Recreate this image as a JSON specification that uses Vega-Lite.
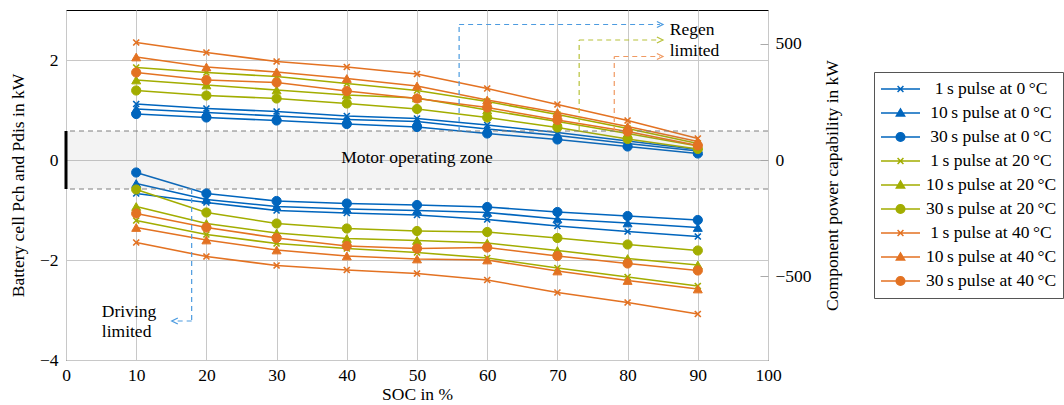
{
  "$schema": "https://vega.github.io/schema/vega-lite/v6.json",
  "width": 702,
  "height": 350,
  "autosize": {"type": "none"},
  "padding": {"left": 66, "top": 10, "right": 296, "bottom": 45},
  "config": {
    "font": "Liberation Serif",
    "view": {"stroke": "black", "strokeWidth": 1},
    "axis": {
      "labelFont": "Liberation Serif", "labelFontSize": 17.5, "labelColor": "black",
      "titleFont": "Liberation Serif", "titleFontSize": 17.5, "titleFontWeight": "normal", "titleColor": "black",
      "gridColor": "#c8c8c8", "gridWidth": 1, "domain": false, "ticks": false, "labelFlush": false
    },
    "legend": {
      "labelFont": "Liberation Serif", "labelFontSize": 17.5, "labelColor": "black"
    }
  },
  "datasets": {
    "pts": [
      {"s": "1\u2009s pulse at 0\u2009°C", "pu": 1, "soc": 10, "ch": 1.12, "dis": -0.67},
      {"s": "1\u2009s pulse at 0\u2009°C", "pu": 1, "soc": 20, "ch": 1.03, "dis": -0.85},
      {"s": "1\u2009s pulse at 0\u2009°C", "pu": 1, "soc": 30, "ch": 0.97, "dis": -1.01},
      {"s": "1\u2009s pulse at 0\u2009°C", "pu": 1, "soc": 40, "ch": 0.88, "dis": -1.06},
      {"s": "1\u2009s pulse at 0\u2009°C", "pu": 1, "soc": 50, "ch": 0.83, "dis": -1.10},
      {"s": "1\u2009s pulse at 0\u2009°C", "pu": 1, "soc": 60, "ch": 0.70, "dis": -1.19},
      {"s": "1\u2009s pulse at 0\u2009°C", "pu": 1, "soc": 70, "ch": 0.55, "dis": -1.32},
      {"s": "1\u2009s pulse at 0\u2009°C", "pu": 1, "soc": 80, "ch": 0.38, "dis": -1.43},
      {"s": "1\u2009s pulse at 0\u2009°C", "pu": 1, "soc": 90, "ch": 0.21, "dis": -1.53},
      {"s": "10\u2009s pulse at 0\u2009°C", "pu": 10, "soc": 10, "ch": 1.02, "dis": -0.47},
      {"s": "10\u2009s pulse at 0\u2009°C", "pu": 10, "soc": 20, "ch": 0.95, "dis": -0.79},
      {"s": "10\u2009s pulse at 0\u2009°C", "pu": 10, "soc": 30, "ch": 0.88, "dis": -0.93},
      {"s": "10\u2009s pulse at 0\u2009°C", "pu": 10, "soc": 40, "ch": 0.81, "dis": -0.98},
      {"s": "10\u2009s pulse at 0\u2009°C", "pu": 10, "soc": 50, "ch": 0.77, "dis": -1.01},
      {"s": "10\u2009s pulse at 0\u2009°C", "pu": 10, "soc": 60, "ch": 0.62, "dis": -1.05},
      {"s": "10\u2009s pulse at 0\u2009°C", "pu": 10, "soc": 70, "ch": 0.49, "dis": -1.18},
      {"s": "10\u2009s pulse at 0\u2009°C", "pu": 10, "soc": 80, "ch": 0.33, "dis": -1.26},
      {"s": "10\u2009s pulse at 0\u2009°C", "pu": 10, "soc": 90, "ch": 0.18, "dis": -1.35},
      {"s": "30\u2009s pulse at 0\u2009°C", "pu": 30, "soc": 10, "ch": 0.92, "dis": -0.25},
      {"s": "30\u2009s pulse at 0\u2009°C", "pu": 30, "soc": 20, "ch": 0.85, "dis": -0.67},
      {"s": "30\u2009s pulse at 0\u2009°C", "pu": 30, "soc": 30, "ch": 0.79, "dis": -0.82},
      {"s": "30\u2009s pulse at 0\u2009°C", "pu": 30, "soc": 40, "ch": 0.72, "dis": -0.87},
      {"s": "30\u2009s pulse at 0\u2009°C", "pu": 30, "soc": 50, "ch": 0.66, "dis": -0.90},
      {"s": "30\u2009s pulse at 0\u2009°C", "pu": 30, "soc": 60, "ch": 0.53, "dis": -0.94},
      {"s": "30\u2009s pulse at 0\u2009°C", "pu": 30, "soc": 70, "ch": 0.41, "dis": -1.04},
      {"s": "30\u2009s pulse at 0\u2009°C", "pu": 30, "soc": 80, "ch": 0.27, "dis": -1.12},
      {"s": "30\u2009s pulse at 0\u2009°C", "pu": 30, "soc": 90, "ch": 0.13, "dis": -1.20},
      {"s": "1\u2009s pulse at 20\u2009°C", "pu": 1, "soc": 10, "ch": 1.85, "dis": -1.21},
      {"s": "1\u2009s pulse at 20\u2009°C", "pu": 1, "soc": 20, "ch": 1.75, "dis": -1.49},
      {"s": "1\u2009s pulse at 20\u2009°C", "pu": 1, "soc": 30, "ch": 1.67, "dis": -1.67},
      {"s": "1\u2009s pulse at 20\u2009°C", "pu": 1, "soc": 40, "ch": 1.53, "dis": -1.77},
      {"s": "1\u2009s pulse at 20\u2009°C", "pu": 1, "soc": 50, "ch": 1.39, "dis": -1.85},
      {"s": "1\u2009s pulse at 20\u2009°C", "pu": 1, "soc": 60, "ch": 1.17, "dis": -1.96},
      {"s": "1\u2009s pulse at 20\u2009°C", "pu": 1, "soc": 70, "ch": 0.91, "dis": -2.16},
      {"s": "1\u2009s pulse at 20\u2009°C", "pu": 1, "soc": 80, "ch": 0.63, "dis": -2.34},
      {"s": "1\u2009s pulse at 20\u2009°C", "pu": 1, "soc": 90, "ch": 0.33, "dis": -2.52},
      {"s": "10\u2009s pulse at 20\u2009°C", "pu": 10, "soc": 10, "ch": 1.60, "dis": -0.93},
      {"s": "10\u2009s pulse at 20\u2009°C", "pu": 10, "soc": 20, "ch": 1.50, "dis": -1.27},
      {"s": "10\u2009s pulse at 20\u2009°C", "pu": 10, "soc": 30, "ch": 1.40, "dis": -1.46},
      {"s": "10\u2009s pulse at 20\u2009°C", "pu": 10, "soc": 40, "ch": 1.30, "dis": -1.57},
      {"s": "10\u2009s pulse at 20\u2009°C", "pu": 10, "soc": 50, "ch": 1.24, "dis": -1.61},
      {"s": "10\u2009s pulse at 20\u2009°C", "pu": 10, "soc": 60, "ch": 1.00, "dis": -1.66},
      {"s": "10\u2009s pulse at 20\u2009°C", "pu": 10, "soc": 70, "ch": 0.77, "dis": -1.81},
      {"s": "10\u2009s pulse at 20\u2009°C", "pu": 10, "soc": 80, "ch": 0.53, "dis": -1.97},
      {"s": "10\u2009s pulse at 20\u2009°C", "pu": 10, "soc": 90, "ch": 0.28, "dis": -2.10},
      {"s": "30\u2009s pulse at 20\u2009°C", "pu": 30, "soc": 10, "ch": 1.39, "dis": -0.59},
      {"s": "30\u2009s pulse at 20\u2009°C", "pu": 30, "soc": 20, "ch": 1.29, "dis": -1.05},
      {"s": "30\u2009s pulse at 20\u2009°C", "pu": 30, "soc": 30, "ch": 1.23, "dis": -1.27},
      {"s": "30\u2009s pulse at 20\u2009°C", "pu": 30, "soc": 40, "ch": 1.13, "dis": -1.37},
      {"s": "30\u2009s pulse at 20\u2009°C", "pu": 30, "soc": 50, "ch": 1.02, "dis": -1.42},
      {"s": "30\u2009s pulse at 20\u2009°C", "pu": 30, "soc": 60, "ch": 0.85, "dis": -1.44},
      {"s": "30\u2009s pulse at 20\u2009°C", "pu": 30, "soc": 70, "ch": 0.65, "dis": -1.56},
      {"s": "30\u2009s pulse at 20\u2009°C", "pu": 30, "soc": 80, "ch": 0.42, "dis": -1.69},
      {"s": "30\u2009s pulse at 20\u2009°C", "pu": 30, "soc": 90, "ch": 0.22, "dis": -1.81},
      {"s": "1\u2009s pulse at 40\u2009°C", "pu": 1, "soc": 10, "ch": 2.35, "dis": -1.65},
      {"s": "1\u2009s pulse at 40\u2009°C", "pu": 1, "soc": 20, "ch": 2.15, "dis": -1.93},
      {"s": "1\u2009s pulse at 40\u2009°C", "pu": 1, "soc": 30, "ch": 1.97, "dis": -2.11},
      {"s": "1\u2009s pulse at 40\u2009°C", "pu": 1, "soc": 40, "ch": 1.86, "dis": -2.20},
      {"s": "1\u2009s pulse at 40\u2009°C", "pu": 1, "soc": 50, "ch": 1.72, "dis": -2.27},
      {"s": "1\u2009s pulse at 40\u2009°C", "pu": 1, "soc": 60, "ch": 1.43, "dis": -2.40},
      {"s": "1\u2009s pulse at 40\u2009°C", "pu": 1, "soc": 70, "ch": 1.11, "dis": -2.65},
      {"s": "1\u2009s pulse at 40\u2009°C", "pu": 1, "soc": 80, "ch": 0.79, "dis": -2.85},
      {"s": "1\u2009s pulse at 40\u2009°C", "pu": 1, "soc": 90, "ch": 0.43, "dis": -3.08},
      {"s": "10\u2009s pulse at 40\u2009°C", "pu": 10, "soc": 10, "ch": 2.06, "dis": -1.35},
      {"s": "10\u2009s pulse at 40\u2009°C", "pu": 10, "soc": 20, "ch": 1.86, "dis": -1.60},
      {"s": "10\u2009s pulse at 40\u2009°C", "pu": 10, "soc": 30, "ch": 1.76, "dis": -1.80},
      {"s": "10\u2009s pulse at 40\u2009°C", "pu": 10, "soc": 40, "ch": 1.63, "dis": -1.92},
      {"s": "10\u2009s pulse at 40\u2009°C", "pu": 10, "soc": 50, "ch": 1.48, "dis": -1.98},
      {"s": "10\u2009s pulse at 40\u2009°C", "pu": 10, "soc": 60, "ch": 1.20, "dis": -2.00},
      {"s": "10\u2009s pulse at 40\u2009°C", "pu": 10, "soc": 70, "ch": 0.95, "dis": -2.22},
      {"s": "10\u2009s pulse at 40\u2009°C", "pu": 10, "soc": 80, "ch": 0.67, "dis": -2.41},
      {"s": "10\u2009s pulse at 40\u2009°C", "pu": 10, "soc": 90, "ch": 0.37, "dis": -2.58},
      {"s": "30\u2009s pulse at 40\u2009°C", "pu": 30, "soc": 10, "ch": 1.75, "dis": -1.07},
      {"s": "30\u2009s pulse at 40\u2009°C", "pu": 30, "soc": 20, "ch": 1.60, "dis": -1.35},
      {"s": "30\u2009s pulse at 40\u2009°C", "pu": 30, "soc": 30, "ch": 1.55, "dis": -1.56},
      {"s": "30\u2009s pulse at 40\u2009°C", "pu": 30, "soc": 40, "ch": 1.38, "dis": -1.72},
      {"s": "30\u2009s pulse at 40\u2009°C", "pu": 30, "soc": 50, "ch": 1.23, "dis": -1.77},
      {"s": "30\u2009s pulse at 40\u2009°C", "pu": 30, "soc": 60, "ch": 1.05, "dis": -1.75},
      {"s": "30\u2009s pulse at 40\u2009°C", "pu": 30, "soc": 70, "ch": 0.80, "dis": -1.92},
      {"s": "30\u2009s pulse at 40\u2009°C", "pu": 30, "soc": 80, "ch": 0.57, "dis": -2.07},
      {"s": "30\u2009s pulse at 40\u2009°C", "pu": 30, "soc": 90, "ch": 0.29, "dis": -2.21}
    ],
    "ann": [
      {"c": "b", "x": 56.0, "y": 0.58, "x2": 56.0, "y2": 2.71},
      {"c": "b", "x": 56.0, "y": 2.71, "x2": 84.6, "y2": 2.71},
      {"c": "g", "x": 73.1, "y": 0.58, "x2": 73.1, "y2": 2.40},
      {"c": "g", "x": 73.1, "y": 2.40, "x2": 84.6, "y2": 2.40},
      {"c": "o", "x": 78.1, "y": 0.58, "x2": 78.1, "y2": 2.07},
      {"c": "o", "x": 78.1, "y": 2.07, "x2": 84.6, "y2": 2.07},
      {"c": "b", "x": 17.9, "y": -0.58, "x2": 17.9, "y2": -3.22},
      {"c": "b", "x": 17.9, "y": -3.22, "x2": 15.5, "y2": -3.22}
    ],
    "heads": [
      {"c": "b", "d": "r", "x": 84.6, "y": 2.71},
      {"c": "g", "d": "r", "x": 84.6, "y": 2.40},
      {"c": "o", "d": "r", "x": 84.6, "y": 2.07},
      {"c": "b", "d": "l", "x": 15.5, "y": -3.22}
    ],
    "labels": [
      {"t": "Regen", "x": 86.0, "y": 2.6},
      {"t": "limited", "x": 86.0, "y": 2.19},
      {"t": "Driving", "x": 5.1, "y": -3.03},
      {"t": "limited", "x": 5.1, "y": -3.43}
    ]
  },
  "layer": [
    {
      "layer": [
        {
          "data": {"name": "pts"},
          "transform": [{"fold": ["ch", "dis"], "as": ["b", "p"]}],
          "mark": {"type": "line", "strokeWidth": 1.6},
          "encoding": {
            "x": {"field": "soc", "type": "quantitative", "title": "SOC in %", "scale": {"domain": [0, 100], "nice": false},
                  "axis": {"values": [0, 10, 20, 30, 40, 50, 60, 70, 80, 90, 100], "title": "SOC in %", "grid": true, "labelPadding": 6, "titlePadding": 2}},
            "y": {"field": "p", "type": "quantitative", "title": "Battery cell Pch and Pdis in kW", "scale": {"domain": [-4, 3], "nice": false},
                  "axis": {"values": [-4, -2, 0, 2], "title": "Battery cell Pch and Pdis in kW", "grid": true, "labelPadding": 8, "titlePadding": 12}},
            "stroke": {"field": "s", "type": "nominal",
                       "scale": {"domain": ["1\u2009s pulse at 0\u2009°C", "10\u2009s pulse at 0\u2009°C", "30\u2009s pulse at 0\u2009°C", "1\u2009s pulse at 20\u2009°C", "10\u2009s pulse at 20\u2009°C", "30\u2009s pulse at 20\u2009°C", "1\u2009s pulse at 40\u2009°C", "10\u2009s pulse at 40\u2009°C", "30\u2009s pulse at 40\u2009°C"],
                                 "range": ["#0065BD", "#0065BD", "#0065BD", "#A2AD00", "#A2AD00", "#A2AD00", "#E37222", "#E37222", "#E37222"]}},
            "detail": {"field": "b"}
          }
        },
        {
          "data": {"values": [{}]},
          "mark": {"type": "rect", "fill": "#888888", "opacity": 0.1},
          "encoding": {
            "x": {"datum": 0, "type": "quantitative", "title": "SOC in %"},
            "x2": {"datum": 100},
            "y": {"datum": -0.58, "type": "quantitative", "title": "Battery cell Pch and Pdis in kW"},
            "y2": {"datum": 0.58}
          }
        },
        {
          "data": {"values": [{}]},
          "mark": {"type": "rule", "color": "#7f7f7f", "strokeDash": [5, 4], "strokeWidth": 1},
          "encoding": {"y": {"datum": 0.58, "type": "quantitative", "title": "Battery cell Pch and Pdis in kW"}}
        },
        {
          "data": {"values": [{}]},
          "mark": {"type": "rule", "color": "#7f7f7f", "strokeDash": [5, 4], "strokeWidth": 1},
          "encoding": {"y": {"datum": -0.58, "type": "quantitative", "title": "Battery cell Pch and Pdis in kW"}}
        },
        {
          "data": {"values": [{}]},
          "mark": {"type": "rule", "color": "black", "strokeWidth": 3},
          "encoding": {
            "x": {"datum": 0, "type": "quantitative", "title": "SOC in %"},
            "y": {"datum": -0.58, "type": "quantitative", "title": "Battery cell Pch and Pdis in kW"},
            "y2": {"datum": 0.58}
          }
        },
        {
          "data": {"name": "ann"},
          "mark": {"type": "rule", "strokeDash": [5, 4], "strokeWidth": 1.2},
          "encoding": {
            "x": {"field": "x", "type": "quantitative", "title": "SOC in %"},
            "x2": {"field": "x2"},
            "y": {"field": "y", "type": "quantitative", "title": "Battery cell Pch and Pdis in kW"},
            "y2": {"field": "y2"},
            "color": {"field": "c", "type": "nominal", "scale": {"domain": ["b", "g", "o"], "range": ["#4C9BE0", "#B8C23A", "#F09A62"]}, "legend": null}
          }
        },
        {
          "data": {"name": "heads"},
          "transform": [{"filter": "datum.d == 'r'"}],
          "mark": {"type": "point", "shape": "M-1,-1L1,0L-1,1", "size": 36, "strokeWidth": 1.3, "filled": false, "opacity": 1},
          "encoding": {
            "x": {"field": "x", "type": "quantitative", "title": "SOC in %"},
            "y": {"field": "y", "type": "quantitative", "title": "Battery cell Pch and Pdis in kW"},
            "color": {"field": "c", "type": "nominal", "legend": null}
          }
        },
        {
          "data": {"name": "heads"},
          "transform": [{"filter": "datum.d == 'l'"}],
          "mark": {"type": "point", "shape": "M1,-1L-1,0L1,1", "size": 36, "strokeWidth": 1.3, "filled": false, "opacity": 1},
          "encoding": {
            "x": {"field": "x", "type": "quantitative", "title": "SOC in %"},
            "y": {"field": "y", "type": "quantitative", "title": "Battery cell Pch and Pdis in kW"},
            "color": {"field": "c", "type": "nominal", "legend": null}
          }
        },
        {
          "data": {"values": [{"t": "Motor operating zone", "x": 50, "y": 0.04}]},
          "mark": {"type": "text", "align": "center", "baseline": "middle", "fontSize": 17.5, "font": "Liberation Serif", "color": "black"},
          "encoding": {
            "x": {"field": "x", "type": "quantitative", "title": "SOC in %"},
            "y": {"field": "y", "type": "quantitative", "title": "Battery cell Pch and Pdis in kW"},
            "text": {"field": "t"}
          }
        },
        {
          "data": {"name": "labels"},
          "mark": {"type": "text", "align": "left", "baseline": "middle", "fontSize": 17.5, "font": "Liberation Serif", "color": "black"},
          "encoding": {
            "x": {"field": "x", "type": "quantitative", "title": "SOC in %"},
            "y": {"field": "y", "type": "quantitative", "title": "Battery cell Pch and Pdis in kW"},
            "text": {"field": "t"}
          }
        },
        {
          "data": {"name": "pts"},
          "transform": [{"filter": "datum.pu == 1"}, {"fold": ["ch", "dis"], "as": ["b", "p"]}],
          "mark": {"type": "point", "shape": "M-1,-1L1,1M-1,1L1,-1", "size": 36, "strokeWidth": 1.7, "opacity": 1},
          "encoding": {
            "x": {"field": "soc", "type": "quantitative", "title": "SOC in %"},
            "y": {"field": "p", "type": "quantitative", "title": "Battery cell Pch and Pdis in kW"},
            "stroke": {"field": "s", "type": "nominal"},
            "fill": {"field": "s", "type": "nominal"}
          }
        },
        {
          "data": {"name": "pts"},
          "transform": [{"filter": "datum.pu == 10"}, {"fold": ["ch", "dis"], "as": ["b", "p"]}],
          "mark": {"type": "point", "shape": "triangle-up", "size": 80, "strokeWidth": 1, "opacity": 1},
          "encoding": {
            "x": {"field": "soc", "type": "quantitative", "title": "SOC in %"},
            "y": {"field": "p", "type": "quantitative", "title": "Battery cell Pch and Pdis in kW"},
            "stroke": {"field": "s", "type": "nominal"},
            "fill": {"field": "s", "type": "nominal"}
          }
        },
        {
          "data": {"name": "pts"},
          "transform": [{"filter": "datum.pu == 30"}, {"fold": ["ch", "dis"], "as": ["b", "p"]}],
          "mark": {"type": "point", "shape": "circle", "size": 85, "strokeWidth": 1, "opacity": 1},
          "encoding": {
            "x": {"field": "soc", "type": "quantitative", "title": "SOC in %"},
            "y": {"field": "p", "type": "quantitative", "title": "Battery cell Pch and Pdis in kW"},
            "stroke": {"field": "s", "type": "nominal"},
            "fill": {"field": "s", "type": "nominal",
                     "scale": {"domain": ["1\u2009s pulse at 0\u2009°C", "10\u2009s pulse at 0\u2009°C", "30\u2009s pulse at 0\u2009°C", "1\u2009s pulse at 20\u2009°C", "10\u2009s pulse at 20\u2009°C", "30\u2009s pulse at 20\u2009°C", "1\u2009s pulse at 40\u2009°C", "10\u2009s pulse at 40\u2009°C", "30\u2009s pulse at 40\u2009°C"],
                               "range": ["#0065BD", "#0065BD", "#0065BD", "#A2AD00", "#A2AD00", "#A2AD00", "#E37222", "#E37222", "#E37222"]}}
          }
        },
        {
          "data": {"name": "pts"},
          "transform": [{"filter": "datum.soc > 1000"}],
          "mark": {"type": "point", "opacity": 1, "strokeWidth": 1.5},
          "encoding": {
            "x": {"field": "soc", "type": "quantitative", "title": "SOC in %"},
            "y": {"field": "ch", "type": "quantitative", "title": "Battery cell Pch and Pdis in kW"},
            "shape": {"field": "s", "type": "nominal",
                      "scale": {"domain": ["1\u2009s pulse at 0\u2009°C", "10\u2009s pulse at 0\u2009°C", "30\u2009s pulse at 0\u2009°C", "1\u2009s pulse at 20\u2009°C", "10\u2009s pulse at 20\u2009°C", "30\u2009s pulse at 20\u2009°C", "1\u2009s pulse at 40\u2009°C", "10\u2009s pulse at 40\u2009°C", "30\u2009s pulse at 40\u2009°C"],
                                "range": ["M-1,0H1M-0.15,-0.15L0.15,0.15M-0.15,0.15L0.15,-0.15", "M-1,0H1M-0.21,0.15L0,-0.21L0.21,0.15Z", "M-1,0H1M-0.22,0A0.22,0.22,0,1,0,0.22,0A0.22,0.22,0,1,0,-0.22,0Z", "M-1,0H1M-0.15,-0.15L0.15,0.15M-0.15,0.15L0.15,-0.15", "M-1,0H1M-0.21,0.15L0,-0.21L0.21,0.15Z", "M-1,0H1M-0.22,0A0.22,0.22,0,1,0,0.22,0A0.22,0.22,0,1,0,-0.22,0Z", "M-1,0H1M-0.15,-0.15L0.15,0.15M-0.15,0.15L0.15,-0.15", "M-1,0H1M-0.21,0.15L0,-0.21L0.21,0.15Z", "M-1,0H1M-0.22,0A0.22,0.22,0,1,0,0.22,0A0.22,0.22,0,1,0,-0.22,0Z"]},
                      "legend": {"orient": "none", "legendX": 808, "legendY": 62, "title": null, "symbolSize": 1521, "symbolStrokeWidth": 1.5, "symbolOpacity": 1, "labelAlign": "center", "labelOffset": 70, "labelLimit": 300, "clipHeight": 22, "rowPadding": 2, "padding": 6, "strokeColor": "#555555", "fillColor": "white"}},
            "stroke": {"field": "s", "type": "nominal",
                       "legend": {"orient": "none", "legendX": 808, "legendY": 62, "title": null, "symbolSize": 1521, "symbolStrokeWidth": 1.5, "symbolOpacity": 1, "labelAlign": "center", "labelOffset": 70, "labelLimit": 300, "clipHeight": 22, "rowPadding": 2, "padding": 6, "strokeColor": "#555555", "fillColor": "white"}},
            "fill": {"field": "s", "type": "nominal",
                     "legend": {"orient": "none", "legendX": 808, "legendY": 62, "title": null, "symbolSize": 1521, "symbolStrokeWidth": 1.5, "symbolOpacity": 1, "labelAlign": "center", "labelOffset": 70, "labelLimit": 300, "clipHeight": 22, "rowPadding": 2, "padding": 6, "strokeColor": "#555555", "fillColor": "white"}}
          }
        }
      ]
    },
    {
      "data": {"values": [{"v": 0}]},
      "mark": {"type": "point", "opacity": 0},
      "encoding": {
        "y": {"field": "v", "type": "quantitative", "scale": {"domain": [-860, 645], "nice": false},
              "axis": {"orient": "right", "values": [-500, 0, 500], "title": "Component power capability in kW", "grid": false, "ticks": true, "tickSize": -8, "tickColor": "#aaaaaa", "labelPadding": 15, "titlePadding": 30, "titleAngle": 270}}
      }
    }
  ],
  "resolve": {"scale": {"y": "independent"}}
}
